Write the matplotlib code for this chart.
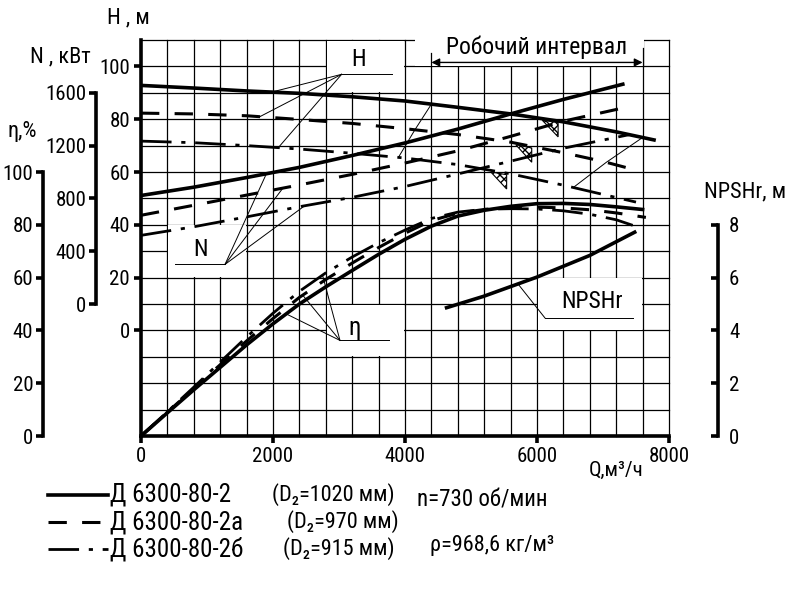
import numpy as np
import matplotlib
matplotlib.use('Agg')
import matplotlib.pyplot as plt
from matplotlib.patches import Polygon, Rectangle
from matplotlib.lines import Line2D

plt.rcParams['font.family'] = ['Roboto Condensed', 'PT Sans Narrow',
                               'Sofia Sans Condensed', 'DejaVu Sans']

# ---- data ----
# head H, m
q_h1 = [0, 800, 1600, 2400, 3200, 4000, 4800, 5600, 6400, 7200, 7800]
h1 = [92.8, 91.8, 90.7, 89.8, 88.5, 86.9, 84.5, 82.0, 79.0, 75.2, 72.0]
q_h2 = [0, 800, 1600, 2400, 3200, 4000, 4800, 5600, 6400, 7000, 7500]
h2 = [82.3, 82.0, 81.3, 79.9, 78.4, 76.4, 74.2, 71.3, 67.3, 64.0, 60.7]
q_h3 = [0, 800, 1600, 2400, 3200, 4000, 4800, 5600, 6400, 7000, 7500]
h3 = [71.7, 71.1, 70.0, 68.7, 67.1, 65.3, 62.8, 59.3, 55.0, 51.5, 48.6]

# power N, kW
q_n1 = [0, 800, 1600, 2400, 3200, 4000, 4800, 5600, 6400, 7300]
n1 = [822, 885, 958, 1035, 1125, 1220, 1325, 1440, 1550, 1665]
q_n2 = [0, 800, 1600, 2400, 3200, 4000, 4800, 5600, 6400, 7350]
n2 = [672, 748, 825, 902, 982, 1068, 1160, 1270, 1385, 1490]
q_n3 = [0, 800, 1600, 2400, 3200, 4000, 4800, 5600, 6400, 7400]
n3 = [520, 585, 660, 737, 808, 890, 985, 1082, 1180, 1283]

# efficiency, %
q_e1 = [0, 400, 800, 1200, 1600, 2000, 2400, 2800, 3200, 3600, 4000, 4400,
        4800, 5200, 5600, 6000, 6400, 6800, 7200, 7600]
e1 = [0, 8.8, 17.5, 26, 34.5, 42.5, 50, 56.5, 62.7, 68.8, 74.5, 79.5,
      83.3, 85.5, 87.0, 88.0, 88.1, 87.7, 86.8, 85.8]
q_e2 = [0, 400, 800, 1200, 1600, 2000, 2400, 2800, 3200, 3600, 4000, 4400,
        4800, 5200, 5600, 6000, 6400, 6800, 7200, 7650]
e2 = [0, 9, 18, 27, 36, 44.5, 52.5, 59.3, 65.5, 71.4, 76.8, 81.6,
      84.4, 85.8, 86.4, 86.7, 86.4, 85.7, 84.5, 82.8]
q_e3 = [0, 400, 800, 1200, 1600, 2000, 2400, 2800, 3200, 3600, 4000, 4400,
        4800, 5200, 5600, 6000, 6400, 6800, 7200, 7450]
e3 = [0, 9.2, 18.5, 28, 37.5, 46.5, 54.8, 61.8, 67.8, 73.2, 78.0, 82.4,
      84.8, 85.9, 86.1, 86.0, 85.3, 84.0, 81.9, 79.8]

# NPSHr, m
q_np = [4630, 5190, 6000, 6800, 7480]
npsh = [4.86, 5.29, 6.02, 6.84, 7.72]

# best efficiency points and working zone limits (m3/h)
opt_q = [6320, 5920, 5540]
wz_left = [4400, 4150, 3900]
wz_right = [7600, 7050, 6550]

names = ['Д 6300-80-2', 'Д 6300-80-2а', 'Д 6300-80-2б']
diams = ['(D₂=1020 мм)', '(D₂=970 мм)', '(D₂=915 мм)']

styles = [dict(color='k', lw=2.6, ls='-'),
          dict(color='k', lw=2.2, dashes=(6, 5)),
          dict(color='k', lw=2.0, dashes=(11, 3.5, 1.5, 3.5))]

H = [(q_h1, h1), (q_h2, h2), (q_h3, h3)]
N = [(q_n1, n1), (q_n2, n2), (q_n3, n3)]
E = [(q_e1, e1), (q_e2, e2), (q_e3, e3)]

FS = 15   # tick / label font size

# helpers: convert secondary scales to the head axis
def n2h(n):
    return np.asarray(n) / 20.0 + 10
def e2h(e):
    return np.asarray(e) - 40
def p2h(p):
    return np.asarray(p) * 10 - 40

fig = plt.figure(figsize=(8.07, 5.91), dpi=100)
ax = fig.add_axes([141/807, 1-436/591, 528/807, 396/591])
ax.set_xlim(0, 8000)
ax.set_ylim(-40, 110)

gl = dict(color='k', lw=0.9, zorder=1, clip_on=False)
for q in range(400, 8001, 400):
    ax.plot([q, q], [-40, 110], **gl)
for h in range(-30, 111, 10):
    ax.plot([0, 8000], [h, h], **gl)

# white label boxes
for (x0, x1, y0, y1) in [(400, 1600, 20, 40), (2800, 4000, 90, 110),
                         (2800, 4000, -10, 10), (6000, 7600, 0, 20)]:
    ax.add_patch(Rectangle((x0+12, y0+0.25), x1-x0-24, y1-y0-0.5,
                           fc='white', ec='none', zorder=1.5))
ax.add_patch(Rectangle((4150, 100.3), 3470, 12, fc='white', ec='none',
                       zorder=1.6, clip_on=False))
ax.plot([4400, 4400], [100, 105], color='k', lw=0.9, zorder=2, clip_on=False)
ax.plot([7600, 7600], [100, 106.8], color='k', lw=0.9, zorder=2, clip_on=False)
ax.annotate('', xy=(4400, 101.5), xytext=(7600, 101.5),
            arrowprops=dict(arrowstyle='<|-|>', color='k', lw=1.0,
                            mutation_scale=12, shrinkA=0, shrinkB=0),
            zorder=2, annotation_clip=False)
ax.text(6000, 107.3, 'Робочий интервал', fontsize=17, ha='center',
        va='center', zorder=2)

# working zone limits across the trimmed impellers
for lim in (wz_left, wz_right):
    pts_h = [np.interp(q, qs, hs) for q, (qs, hs) in zip(lim, H)]
    ax.plot(lim, pts_h, color='k', lw=0.7, zorder=2)

# best efficiency markers
for q, (qs, hs) in zip(opt_q, H):
    ha = np.interp(q - 240, qs, hs)
    hb = np.interp(q, qs, hs)
    ax.add_patch(Polygon([(q - 240, ha - 0.6), (q, hb - 0.6), (q, hb - 6)],
                         closed=True, fc='white', ec='k', lw=0.8,
                         hatch='xxxx', zorder=4))

# labels with leaders
lk = dict(color='k', lw=0.7, zorder=2)
ax.text(3300, 102.6, 'H', fontsize=17, ha='center', va='center')
ax.plot([3040, 3810], [97, 97], **lk)
for q, (qs, hs) in zip([1980, 1800, 2080], H):
    ax.plot([3040, q], [97, np.interp(q, qs, hs)], **lk)

ax.text(909, 30.6, 'N', fontsize=17, ha='center', va='center')
ax.plot([515, 1273], [25, 25], **lk)
for q, (qs, ns) in zip([1900, 2150, 2480], N):
    ax.plot([1273, q], [25, n2h(np.interp(q, qs, ns))], **lk)

ax.text(3230, 0.8, 'η', fontsize=18, ha='center', va='center')
ax.plot([3015, 3760], [-3.8, -3.8], **lk)
for q, (qs, es) in zip([2200, 2450, 2750], E):
    ax.plot([3015, q], [-3.8, e2h(np.interp(q, qs, es))], **lk)

ax.text(6833, 10.8, 'NPSHr', fontsize=17, ha='center', va='center')
ax.plot([6121, 7455], [4.7, 4.7], **lk)
ax.plot([6121, 5712], [4.7, p2h(np.interp(5712, q_np, npsh))], **lk)

# head axis
for s in ['top', 'right']:
    ax.spines[s].set_visible(False)
for s in ['left', 'bottom']:
    ax.spines[s].set_linewidth(2.6)
ax.set_xticks([0, 2000, 4000, 6000, 8000])
ax.set_yticks([0, 20, 40, 60, 80, 100])
ax.tick_params(direction='out', length=5, width=2.6, labelsize=FS, pad=3)

for k in range(3):
    ax.plot(*H[k], zorder=3, solid_capstyle='butt', **styles[k])

# power axis
ax_n = ax.twinx()
ax_n.set_ylim(-1000, 2000)
for s in ['top', 'right', 'bottom']:
    ax_n.spines[s].set_visible(False)
ax_n.spines['left'].set_visible(True)
ax_n.spines['left'].set_position(('axes', -0.0852))
ax_n.spines['left'].set_bounds(0, 1600)
ax_n.spines['left'].set_linewidth(2.6)
ax_n.yaxis.set_ticks_position('left')
ax_n.set_yticks([0, 400, 800, 1200, 1600])
ax_n.tick_params(direction='out', length=5, width=2.6, labelsize=FS, pad=2)
for k in range(3):
    ax_n.plot(*N[k], zorder=3, **styles[k])

# efficiency axis
ax_e = ax.twinx()
ax_e.set_ylim(0, 150)
for s in ['top', 'right', 'bottom']:
    ax_e.spines[s].set_visible(False)
ax_e.spines['left'].set_visible(True)
ax_e.spines['left'].set_position(('axes', -0.1856))
ax_e.spines['left'].set_bounds(0, 100)
ax_e.spines['left'].set_linewidth(2.6)
ax_e.yaxis.set_ticks_position('left')
ax_e.set_yticks([0, 20, 40, 60, 80, 100])
ax_e.tick_params(direction='out', length=5, width=2.6, labelsize=FS, pad=2)
for k in range(3):
    ax_e.plot(*E[k], zorder=3, **styles[k])

# NPSHr axis
ax_p = ax.twinx()
ax_p.set_ylim(0, 15)
for s in ['top', 'left', 'bottom']:
    ax_p.spines[s].set_visible(False)
ax_p.spines['right'].set_position(('axes', 1.0928))
ax_p.spines['right'].set_bounds(0, 8)
ax_p.spines['right'].set_linewidth(2.6)
ax_p.set_yticks([0, 2, 4, 6, 8])
ax_p.tick_params(direction='in', length=5, width=2.6, labelsize=FS, pad=8)
ax_p.plot(q_np, npsh, color='k', lw=2.6, zorder=3)

# axis titles
def ftext(x, y, s, **kw):
    fig.text(x/807, 1-y/591, s, ha='center', va='center', **kw)

ftext(128, 18, 'H , м', fontsize=16)
ftext(60, 57, 'N , кВт', fontsize=16)
ftext(22, 132, 'η,%', fontsize=16)
ftext(745, 192, 'NPSHr, м', fontsize=16)
ftext(616, 470, 'Q,м³/ч', fontsize=FS)

# legend
rows = [495, 522, 549]
for k in range(3):
    y = 1 - rows[k]/591
    fig.add_artist(Line2D([48/807, 108/807], [y, y], **styles[k]))
    fig.text(110/807, y, names[k], fontsize=18, va='center')
fig.text(272/807, 1-495/591, diams[0], fontsize=16, va='center')
fig.text(287/807, 1-522/591, diams[1], fontsize=16, va='center')
fig.text(283/807, 1-549/591, diams[2], fontsize=16, va='center')
fig.text(417/807, 1-500/591, 'n=730 об/мин', fontsize=16.5, va='center')
fig.text(430/807, 1-546/591, 'ρ=968,6 кг/м³', fontsize=16, va='center')

fig.savefig('out.png', dpi=100)
